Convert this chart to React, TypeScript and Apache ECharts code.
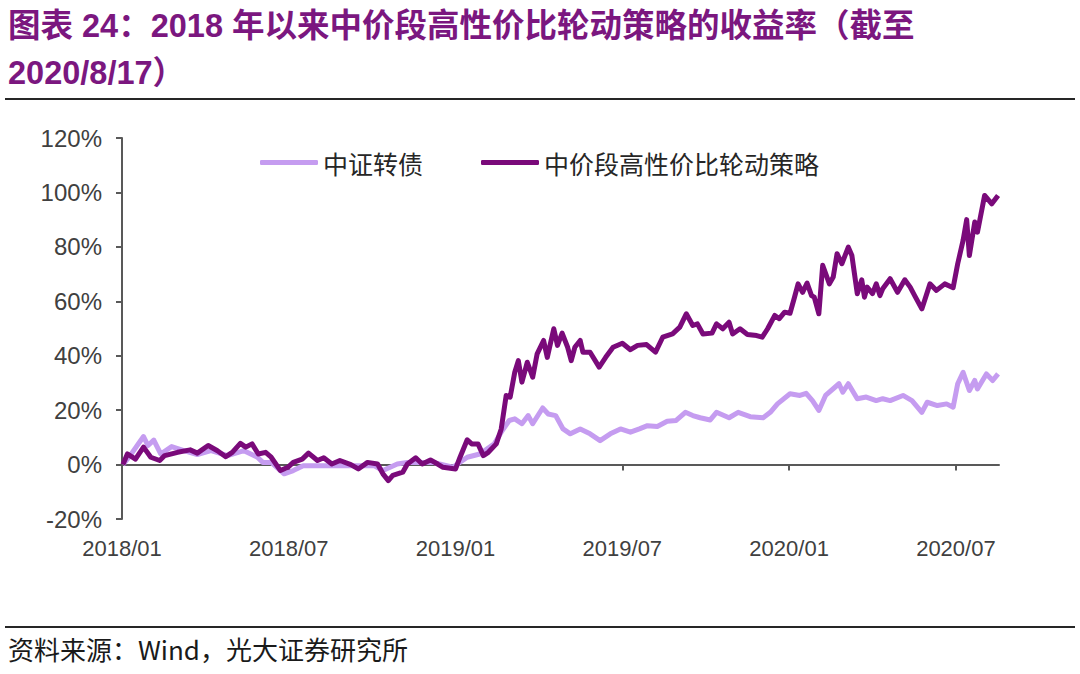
import { useEffect, useRef } from "react";
import * as echarts from "echarts";

// 中证转债
const csiDates = [
  "2018-01-02", "2018-01-10", "2018-01-25", "2018-01-30", "2018-02-05", "2018-02-12",
  "2018-02-23", "2018-03-08", "2018-03-23", "2018-04-07", "2018-04-25", "2018-05-13",
  "2018-05-28", "2018-06-03", "2018-06-12", "2018-06-26", "2018-07-06", "2018-07-17",
  "2018-08-02", "2018-08-24", "2018-09-15", "2018-10-03", "2018-10-13", "2018-10-21",
  "2018-10-29", "2018-11-09", "2018-12-07", "2018-12-29", "2019-01-14", "2019-01-28",
  "2019-02-12", "2019-02-19", "2019-02-27", "2019-03-05", "2019-03-13", "2019-03-20",
  "2019-03-25", "2019-04-05", "2019-04-11", "2019-04-19", "2019-04-27", "2019-05-05",
  "2019-05-16", "2019-05-27", "2019-06-07", "2019-06-18", "2019-06-29", "2019-07-10",
  "2019-07-20", "2019-07-29", "2019-08-09", "2019-08-20", "2019-08-30", "2019-09-09",
  "2019-09-17", "2019-09-25", "2019-10-06", "2019-10-13", "2019-10-27", "2019-11-06",
  "2019-11-19", "2019-12-03", "2019-12-11", "2019-12-19", "2020-01-02", "2020-01-13",
  "2020-01-20", "2020-01-27", "2020-02-03", "2020-02-10", "2020-02-24", "2020-02-28",
  "2020-03-05", "2020-03-15", "2020-03-25", "2020-04-05", "2020-04-12", "2020-04-20",
  "2020-05-04", "2020-05-14", "2020-05-25", "2020-05-31", "2020-06-11", "2020-06-21",
  "2020-06-28", "2020-07-03", "2020-07-09", "2020-07-16", "2020-07-22", "2020-07-25",
  "2020-08-04", "2020-08-11", "2020-08-17",
];
const csiValues = [
  0, 3.3, 10.3, 7, 9, 3.9,
  6.6, 5.1, 3.7, 5.1, 3.3, 5.1,
  2.7, 0.8, 0.8, -3.4, -2.2, -0.4,
  -0.4, -0.4, -0.4, -0.4, -2.2, -1,
  0.2, 0.8, 0.8, -1, 2.7, 3.9,
  7.6, 11.9, 16.2, 16.8, 15, 18,
  15, 20.8, 18.6, 18, 13.1, 11.3,
  13.1, 11.3, 8.8, 11.3, 13.1, 11.9,
  13.1, 14.3, 14, 15.9, 16.2, 19.2,
  18, 17.2, 16.4, 19.2, 17.2, 19.2,
  17.6, 17.2, 19.2, 22.3, 26, 25.4,
  26.2, 23.5, 19.9, 25.4, 29.7, 26.6,
  29.7, 24.2, 24.8, 23.5, 24.2, 23.5,
  25.4, 23.5, 19.2, 22.9, 21.7, 22.3,
  21.1, 29.7, 33.9, 27.2, 30.9, 27.8,
  33.3, 30.9, 33.3,
];

// 中价段高性价比轮动策略
const stratDates = [
  "2018-01-02", "2018-01-07", "2018-01-16", "2018-01-25", "2018-02-02", "2018-02-11",
  "2018-02-16", "2018-03-01", "2018-03-15", "2018-03-23", "2018-04-04", "2018-04-14",
  "2018-04-23", "2018-04-30", "2018-05-09", "2018-05-15", "2018-05-22", "2018-05-29",
  "2018-06-06", "2018-06-12", "2018-06-22", "2018-06-30", "2018-07-06", "2018-07-16",
  "2018-07-23", "2018-08-02", "2018-08-09", "2018-08-18", "2018-08-27", "2018-09-08",
  "2018-09-16", "2018-09-26", "2018-10-07", "2018-10-13", "2018-10-19", "2018-10-24",
  "2018-11-04", "2018-11-09", "2018-11-18", "2018-11-25", "2018-12-04", "2018-12-12",
  "2018-12-18", "2019-01-01", "2019-01-06", "2019-01-14", "2019-01-19", "2019-01-26",
  "2019-02-01", "2019-02-06", "2019-02-14", "2019-02-19", "2019-02-24", "2019-02-28",
  "2019-03-05", "2019-03-09", "2019-03-13", "2019-03-19", "2019-03-25", "2019-03-30",
  "2019-04-06", "2019-04-10", "2019-04-17", "2019-04-21", "2019-04-26", "2019-05-02",
  "2019-05-06", "2019-05-10", "2019-05-16", "2019-05-19", "2019-05-27", "2019-06-06",
  "2019-06-13", "2019-06-21", "2019-07-01", "2019-07-10", "2019-07-18", "2019-07-28",
  "2019-08-07", "2019-08-15", "2019-08-26", "2019-09-03", "2019-09-10", "2019-09-17",
  "2019-09-22", "2019-09-28", "2019-10-08", "2019-10-13", "2019-10-20", "2019-10-27",
  "2019-10-31", "2019-11-08", "2019-11-16", "2019-11-26", "2019-12-02", "2019-12-08",
  "2019-12-16", "2019-12-21", "2019-12-27", "2020-01-02", "2020-01-07", "2020-01-11",
  "2020-01-16", "2020-01-21", "2020-01-26", "2020-01-29", "2020-02-03", "2020-02-07",
  "2020-02-14", "2020-02-18", "2020-02-22", "2020-02-27", "2020-03-05", "2020-03-09",
  "2020-03-15", "2020-03-20", "2020-03-23", "2020-03-26", "2020-04-01", "2020-04-05",
  "2020-04-09", "2020-04-12", "2020-04-20", "2020-04-28", "2020-05-06", "2020-05-12",
  "2020-05-17", "2020-05-25", "2020-06-03", "2020-06-10", "2020-06-19", "2020-06-28",
  "2020-07-03", "2020-07-09", "2020-07-13", "2020-07-16", "2020-07-22", "2020-07-25",
  "2020-08-02", "2020-08-10", "2020-08-17",
];
const stratValues = [
  0, 3.9, 2, 6.4, 2.7, 1.5,
  3.3, 4.5, 5.4, 4.2, 7, 5.1,
  2.9, 4.5, 7.8, 6.4, 7.6, 3.9,
  4.5, 2.7, -2.2, -1, 0.8, 2,
  4.2, 1.5, 2.5, 0.2, 1.5, 0,
  -1.6, 0.8, 0.2, -3.4, -5.9, -4,
  -2.8, 0.2, 2.5, 0.2, 1.7, 0.2,
  -1, -1.6, 2.7, 9.1, 7.6, 7.6,
  3.3, 4.5, 7.6, 13.1, 25.4, 24.8,
  33.9, 38.2, 30.3, 37.6, 32.1, 40.7,
  45.6, 39.4, 49.9, 43.8, 48.3, 43.1,
  38.2, 43.1, 45.6, 41.3, 41.3, 35.8,
  39.4, 43.1, 44.6, 42.2, 43.8, 44.1,
  41.3, 46.8, 48, 50.5, 55.4, 51.1,
  51.7, 48, 48.3, 51.7, 49.9, 52.3,
  48, 49.9, 47.8, 47.4, 46.8, 49.9,
  54.8, 53.6, 56, 55.6, 61.5, 66.4,
  63.3, 66.7, 62.1, 61.5, 55.4, 73.2,
  66.4, 68.9, 77.5, 73.8, 79.9, 76.8,
  62.8, 67.9, 61.5, 65.2, 62.8, 66.4,
  62.1, 64.6, 68.3, 63.3, 67.9, 65.2,
  62.1, 57.2, 66.4, 64, 66.4, 65,
  73.8, 82.4, 90, 76.8, 89.1, 85.4,
  98.9, 95.8, 98.9,
];

const xTickLabels = ["2018/01", "2018/07", "2019/01", "2019/07", "2020/01", "2020/07"];
const seriesNames = ["中证转债", "中价段高性价比轮动策略"];

// x 轴按月计，2018/01 为 0
function monthOffset(s: string) {
  const [y, m, d] = s.split("-").map(Number);
  const days = new Date(y, m, 0).getDate();
  return (y - 2018) * 12 + (m - 1) + (d - 1) / days;
}

const tickValues = xTickLabels.map((_, i) => i * 6);
const font = "'Liberation Sans', Arial, 'Noto Sans CJK SC', sans-serif";
const cjkFont = "'Noto Sans CJK SC', 'Liberation Sans', sans-serif";

export default function App() {
  const chartRef = useRef<HTMLDivElement>(null);

  useEffect(() => {
    if (!chartRef.current) return;
    const chart = echarts.init(chartRef.current, undefined, { renderer: "svg" });

    const light = "#c59cf0";
    const dark = "#7a0a7a";
    const axisColor = "#595959";
    const labelColor = "#404040";
    const titleColor = "#7b177f";

    const option: echarts.EChartsOption = {
      animation: false,
      backgroundColor: "#ffffff",
      grid: { left: 122, right: 81, top: 138, bottom: 155 },
      legend: {
        left: 255,
        top: 145,
        itemWidth: 58,
        itemHeight: 5,
        itemGap: 58,
        icon: "roundRect",
        data: seriesNames,
        textStyle: { fontSize: 25, color: "#262626", fontFamily: cjkFont },
      },
      xAxis: [
        {
          type: "value",
          min: 0,
          max: 31.55,
          position: "bottom",
          axisLine: { show: false, onZero: false },
          axisTick: { show: false },
          splitLine: { show: false },
          axisLabel: {
            customValues: tickValues,
            formatter: (v: number) => xTickLabels[Math.round(v / 6)] ?? "",
            fontSize: 22,
            color: labelColor,
            fontFamily: font,
            margin: 18,
          },
        },
        {
          type: "value",
          min: 0,
          max: 31.55,
          position: "bottom",
          axisLine: { show: true, onZero: true, lineStyle: { color: axisColor, width: 2 } },
          axisTick: {
            show: true,
            customValues: tickValues,
            length: 6,
            lineStyle: { color: axisColor, width: 2 },
          },
          axisLabel: { show: false },
          splitLine: { show: false },
        },
      ],
      yAxis: {
        type: "value",
        min: -20,
        max: 120,
        interval: 20,
        axisLine: { show: true, onZero: false, lineStyle: { color: axisColor, width: 2 } },
        axisTick: { show: true, length: 6, lineStyle: { color: axisColor, width: 2 } },
        splitLine: { show: false },
        axisLabel: {
          formatter: "{value}%",
          fontSize: 24,
          color: labelColor,
          fontFamily: font,
          margin: 20,
        },
      },
      series: [
        {
          name: seriesNames[0],
          type: "line",
          xAxisIndex: 0,
          data: csiDates.map((d, i) => [monthOffset(d), csiValues[i]]),
          symbol: "none",
          lineStyle: { color: light, width: 5, join: "round" },
          itemStyle: { color: light },
        },
        {
          name: seriesNames[1],
          type: "line",
          xAxisIndex: 0,
          data: stratDates.map((d, i) => [monthOffset(d), stratValues[i]]),
          symbol: "none",
          lineStyle: { color: dark, width: 5, join: "round" },
          itemStyle: { color: dark },
        },
      ],
      graphic: [
        {
          type: "text",
          left: 8,
          top: 10,
          style: {
            text: "图表 24：2018 年以来中价段高性价比轮动策略的收益率（截至",
            fill: titleColor,
            font: `bold 32.5px ${font}`,
          },
        },
        {
          type: "text",
          left: 8,
          top: 57,
          style: {
            text: "2020/8/17）",
            fill: titleColor,
            font: `bold 32.5px ${font}`,
          },
        },
        {
          type: "line",
          shape: { x1: 5, y1: 99, x2: 1075, y2: 99 },
          style: { stroke: "#262626", lineWidth: 2 },
        },
        {
          type: "line",
          shape: { x1: 5, y1: 627, x2: 1075, y2: 627 },
          style: { stroke: "#262626", lineWidth: 2 },
        },
        {
          type: "text",
          left: 8,
          top: 635,
          style: {
            text: "资料来源：Wind，光大证券研究所",
            fill: "#1a1a1a",
            font: `26px ${cjkFont}`,
          },
        },
      ],
    };

    chart.setOption(option);
    return () => chart.dispose();
  }, []);

  return (
    <div
      ref={chartRef}
      style={{ position: "fixed", left: 0, top: 0, width: 1080, height: 674 }}
    />
  );
}
